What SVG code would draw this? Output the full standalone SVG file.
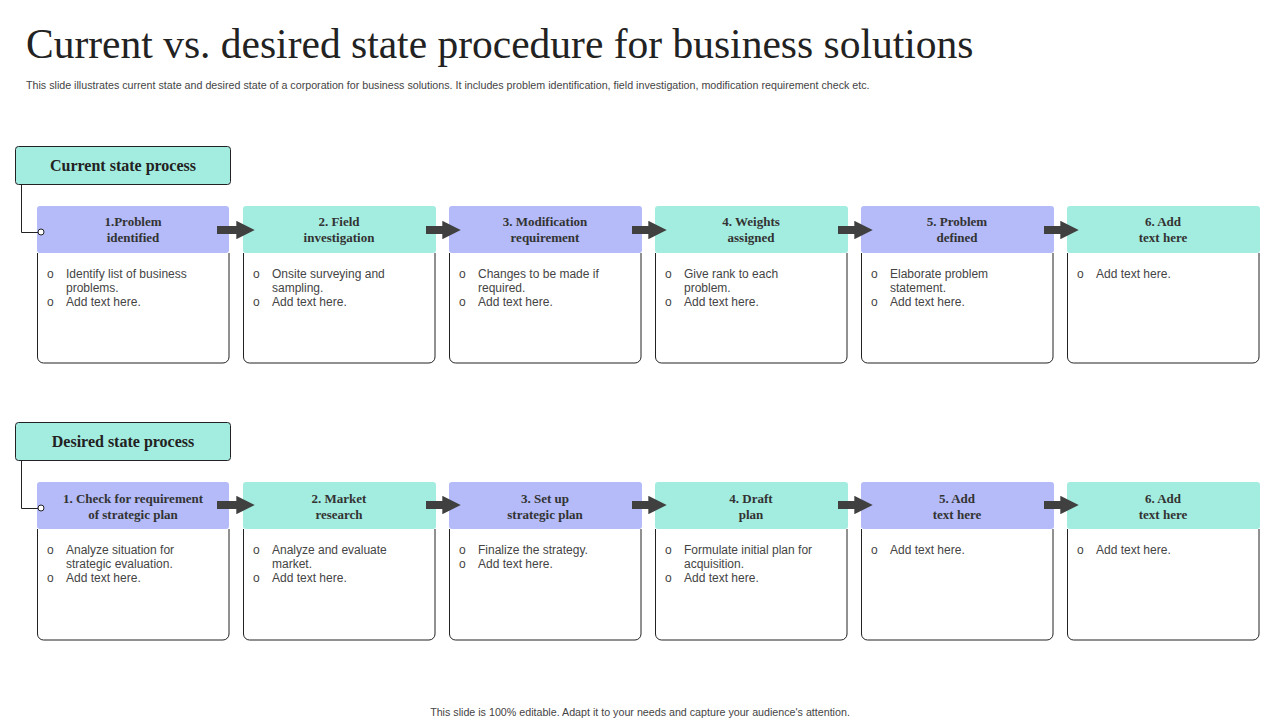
<svg xmlns="http://www.w3.org/2000/svg" width="1280" height="720" viewBox="0 0 1280 720">
<defs>
<style>
.t{font-family:"Liberation Serif",serif;fill:#222}
.h{font-family:"Liberation Serif",serif;font-size:13px;font-weight:bold;fill:#333;text-anchor:middle}
.b{font-family:"Liberation Sans",sans-serif;font-size:12px;fill:#444}
.s{font-family:"Liberation Sans",sans-serif;font-size:10.7px;fill:#444}
.p{fill:#b4bbf8}.g{fill:#a3ede0}
.body{fill:#fff;stroke:#222;stroke-width:1}
</style>
<marker id="ah" viewBox="0 0 10 10" refX="2" refY="5" markerWidth="2.3" markerHeight="2.3" orient="auto"><path d="M0,0L10,5L0,10z" fill="#404040"/></marker>
</defs>
<rect width="1280" height="720" fill="#fff"/>
<text class="t" x="26" y="58" font-size="41.5">Current vs. desired state procedure for business solutions</text>
<text class="s" x="26" y="89">This slide illustrates current state and desired state of a corporation for business solutions. It includes problem identification, field investigation, modification requirement  check etc.</text>
<text class="s" x="640" y="716" text-anchor="middle">This slide is 100% editable.  Adapt it to your needs and capture your audience's attention.</text>

<g id="label-current"><rect x="15.5" y="146.5" width="215" height="38" rx="3" class="g" stroke="#222"/><text class="t" x="123" y="171" font-size="16" font-weight="bold" text-anchor="middle">Current state process</text></g>
<g id="label-desired"><rect x="15.5" y="422.5" width="215" height="38" rx="3" class="g" stroke="#222"/><text class="t" x="123" y="447" font-size="16" font-weight="bold" text-anchor="middle">Desired state process</text></g>

<g id="c1"><path class="body" d="M37.5 253V357a6 6 0 0 0 6 6H223a6 6 0 0 0 6-6V253"/><rect x="37" y="206" width="192" height="47" rx="3" class="p"/><text class="h" x="133" y="226">1.Problem</text><text class="h" x="133" y="242">identified</text><text class="b" x="47" y="278">o</text><text class="b" x="66" y="278">Identify list of business</text><text class="b" x="66" y="292">problems.</text><text class="b" x="47" y="306">o</text><text class="b" x="66" y="306">Add text here.</text></g>
<g id="c2"><path class="body" d="M243.5 253V357a6 6 0 0 0 6 6H429a6 6 0 0 0 6-6V253"/><rect x="243" y="206" width="193" height="47" rx="3" class="g"/><text class="h" x="339" y="226">2. Field</text><text class="h" x="339" y="242">investigation</text><text class="b" x="253" y="278">o</text><text class="b" x="272" y="278">Onsite surveying and</text><text class="b" x="272" y="292">sampling.</text><text class="b" x="253" y="306">o</text><text class="b" x="272" y="306">Add text here.</text></g>
<g id="c3"><path class="body" d="M449.5 253V357a6 6 0 0 0 6 6H635a6 6 0 0 0 6-6V253"/><rect x="449" y="206" width="193" height="47" rx="3" class="p"/><text class="h" x="545" y="226">3. Modification</text><text class="h" x="545" y="242">requirement</text><text class="b" x="459" y="278">o</text><text class="b" x="478" y="278">Changes to be made if</text><text class="b" x="478" y="292">required.</text><text class="b" x="459" y="306">o</text><text class="b" x="478" y="306">Add text here.</text></g>
<g id="c4"><path class="body" d="M655.5 253V357a6 6 0 0 0 6 6H841a6 6 0 0 0 6-6V253"/><rect x="655" y="206" width="193" height="47" rx="3" class="g"/><text class="h" x="751" y="226">4. Weights</text><text class="h" x="751" y="242">assigned</text><text class="b" x="665" y="278">o</text><text class="b" x="684" y="278">Give rank to each</text><text class="b" x="684" y="292">problem.</text><text class="b" x="665" y="306">o</text><text class="b" x="684" y="306">Add text here.</text></g>
<g id="c5"><path class="body" d="M861.5 253V357a6 6 0 0 0 6 6H1047a6 6 0 0 0 6-6V253"/><rect x="861" y="206" width="193" height="47" rx="3" class="p"/><text class="h" x="957" y="226">5. Problem</text><text class="h" x="957" y="242">defined</text><text class="b" x="871" y="278">o</text><text class="b" x="890" y="278">Elaborate problem</text><text class="b" x="890" y="292">statement.</text><text class="b" x="871" y="306">o</text><text class="b" x="890" y="306">Add text here.</text></g>
<g id="c6"><path class="body" d="M1067.5 253V357a6 6 0 0 0 6 6H1253a6 6 0 0 0 6-6V253"/><rect x="1067" y="206" width="193" height="47" rx="3" class="g"/><text class="h" x="1163" y="226">6. Add</text><text class="h" x="1163" y="242">text here</text><text class="b" x="1077" y="278">o</text><text class="b" x="1096" y="278">Add text here.</text></g>

<g id="d1"><path class="body" d="M37.5 529V634a6 6 0 0 0 6 6H223a6 6 0 0 0 6-6V529"/><rect x="37" y="482" width="192" height="47" rx="3" class="p"/><text class="h" x="133" y="503">1. Check for requirement</text><text class="h" x="133" y="519">of strategic plan</text><text class="b" x="47" y="554">o</text><text class="b" x="66" y="554">Analyze  situation for</text><text class="b" x="66" y="568">strategic evaluation.</text><text class="b" x="47" y="582">o</text><text class="b" x="66" y="582">Add text here.</text></g>
<g id="d2"><path class="body" d="M243.5 529V634a6 6 0 0 0 6 6H429a6 6 0 0 0 6-6V529"/><rect x="243" y="482" width="193" height="47" rx="3" class="g"/><text class="h" x="339" y="503">2. Market</text><text class="h" x="339" y="519">research</text><text class="b" x="253" y="554">o</text><text class="b" x="272" y="554">Analyze  and evaluate</text><text class="b" x="272" y="568">market.</text><text class="b" x="253" y="582">o</text><text class="b" x="272" y="582">Add text here.</text></g>
<g id="d3"><path class="body" d="M449.5 529V634a6 6 0 0 0 6 6H635a6 6 0 0 0 6-6V529"/><rect x="449" y="482" width="193" height="47" rx="3" class="p"/><text class="h" x="545" y="503">3. Set up</text><text class="h" x="545" y="519">strategic plan</text><text class="b" x="459" y="554">o</text><text class="b" x="478" y="554">Finalize the strategy.</text><text class="b" x="459" y="568">o</text><text class="b" x="478" y="568">Add text here.</text></g>
<g id="d4"><path class="body" d="M655.5 529V634a6 6 0 0 0 6 6H841a6 6 0 0 0 6-6V529"/><rect x="655" y="482" width="193" height="47" rx="3" class="g"/><text class="h" x="751" y="503">4. Draft</text><text class="h" x="751" y="519">plan</text><text class="b" x="665" y="554">o</text><text class="b" x="684" y="554">Formulate initial plan for</text><text class="b" x="684" y="568">acquisition.</text><text class="b" x="665" y="582">o</text><text class="b" x="684" y="582">Add text here.</text></g>
<g id="d5"><path class="body" d="M861.5 529V634a6 6 0 0 0 6 6H1047a6 6 0 0 0 6-6V529"/><rect x="861" y="482" width="193" height="47" rx="3" class="p"/><text class="h" x="957" y="503">5. Add</text><text class="h" x="957" y="519">text here</text><text class="b" x="871" y="554">o</text><text class="b" x="890" y="554">Add text here.</text></g>
<g id="d6"><path class="body" d="M1067.5 529V634a6 6 0 0 0 6 6H1253a6 6 0 0 0 6-6V529"/><rect x="1067" y="482" width="193" height="47" rx="3" class="g"/><text class="h" x="1163" y="503">6. Add</text><text class="h" x="1163" y="519">text here</text><text class="b" x="1077" y="554">o</text><text class="b" x="1096" y="554">Add text here.</text></g>

<g id="connectors" stroke="#222" fill="none">
<path d="M21.5 184.5V232.5H38"/><circle cx="41" cy="232" r="3" fill="#fff"/>
<path d="M21.5 460.5V508.5H38"/><circle cx="41" cy="508" r="3" fill="#fff"/>
<g stroke="#404040" stroke-width="8" marker-end="url(#ah)">
<path d="M217 230H240"/><path d="M426 230H446"/><path d="M632 230H652"/><path d="M838 230H858"/><path d="M1044 230H1064"/>
<path d="M217 505H240"/><path d="M426 505H446"/><path d="M632 505H652"/><path d="M838 505H858"/><path d="M1044 505H1064"/>
</g>
</g>
</svg>
